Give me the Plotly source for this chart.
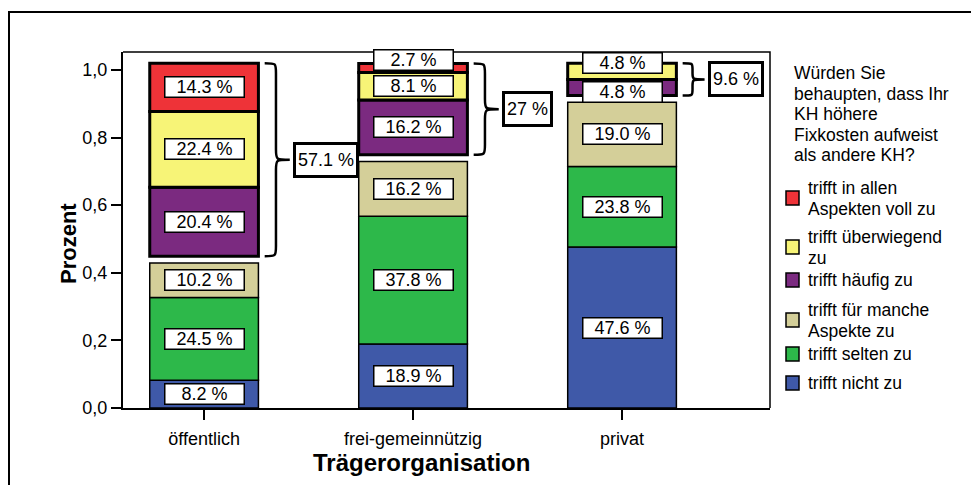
import plotly.graph_objects as go

# --- données (pourcentages par type de Träger) ---
categories = ["öffentlich", "frei-gemeinnützig", "privat"]

nicht = [8.2, 18.9, 47.6]
selten = [24.5, 37.8, 23.8]
manche = [10.2, 16.2, 19.0]
haeufig = [20.4, 16.2, 4.8]
ueberwiegend = [22.4, 8.1, 4.8]
voll = [14.3, 2.7, 0.0]

names = [
    "trifft nicht zu", "trifft selten zu", "trifft für manche<br>Aspekte zu",
    "trifft häufig zu", "trifft überwiegend<br>zu", "trifft in allen<br>Aspekten voll zu",
]
legend_title = ["Würden Sie", "behaupten, dass Ihr", "KH höhere", "Fixkosten aufweist", "als andere KH?"]
series = [nicht, selten, manche, haeufig, ueberwiegend, voll]
colors = ["#3F59A8", "#2DB84A", "#D4CF99", "#7B2A80", "#F7F477", "#EE3338"]

FONT = "Liberation Sans, Arial, sans-serif"
W, H = 979, 485
OFF = 8              # marge du <body> de la page
X0, X1, Y0, Y1 = 123, 770, 52, 408   # zone de tracé (pixels de la page)
GAP = 0.02          # écart entre groupe bas et groupe haut (accolade)
BAR_W = 0.52
YMAX = 1.053


def px(x):
    return (x - X0) / (X1 - X0)


def py(y):
    return (Y1 - y) / (Y1 - Y0)


def text_line(txt, x, y, size, anchor="left"):
    return dict(x=px(x), y=py(y), xref="paper", yref="paper", xanchor=anchor,
                yanchor="middle", showarrow=False, text=txt,
                font=dict(size=size, color="black", family=FONT))


fig = go.Figure()
annotations = []
shapes = []

# petits segments : décalage vertical des étiquettes (px)
label_shift = {(1, 5): 8, (2, 4): 8, (2, 3): -4}

bases = [0.0, 0.0, 0.0]
group_bounds = {}
for k, (vals, col) in enumerate(zip(series, colors)):
    if k == 3:
        bases = [b + GAP for b in bases]
    upper = k >= 3
    xs, ys, bs = [], [], []
    for i, v in enumerate(vals):
        if v <= 0:
            continue
        xs.append(i)
        ys.append(v / 100)
        bs.append(bases[i])
        if upper:
            lo, hi = group_bounds.get(i, (bases[i], bases[i]))
            group_bounds[i] = (lo, bases[i] + v / 100)
        annotations.append(dict(
            x=i, y=bases[i] + v / 200, xref="x", yref="y", showarrow=False,
            xanchor="center", yanchor="middle",
            text=f"{v:.1f} %", font=dict(size=18, color="black", family=FONT),
            bgcolor="white", bordercolor="black", borderwidth=1.5, borderpad=1,
            width=76, height=17, yshift=label_shift.get((i, k), 0),
        ))
    fig.add_trace(go.Bar(
        x=xs, y=ys, base=bs, width=BAR_W, showlegend=False,
        marker=dict(color=col, line=dict(color="black", width=3 if upper else 1.5)),
    ))
    for i, v in enumerate(vals):
        bases[i] += v / 100

# accolades + totaux du groupe haut
for i, (yb, yt) in group_bounds.items():
    total = round(haeufig[i] + ueberwiegend[i] + voll[i], 1)
    x0 = i + BAR_W / 2 + 0.03
    w = 0.12 if yt - yb > 0.15 else 0.105
    xm, xt = x0 + w * 0.45, x0 + w
    ym = (yb + yt) / 2
    r = min(0.03, (yt - yb) / 5.5)
    path = (f"M {x0},{yt} C {xm},{yt} {xm},{yt} {xm},{yt - r} L {xm},{ym + r} "
            f"C {xm},{ym} {xm},{ym} {xt},{ym} C {xm},{ym} {xm},{ym} {xm},{ym - r} "
            f"L {xm},{yb + r} C {xm},{yb} {xm},{yb} {x0},{yb}")
    shapes.append(dict(type="path", path=path, xref="x", yref="y",
                       line=dict(color="black", width=2.5)))
    annotations.append(dict(
        x=xt + 0.015, y=ym, xref="x", yref="y", xanchor="left", yanchor="middle",
        showarrow=False,
        text=f"{total:g} %", font=dict(size=18, color="black", family=FONT),
        bgcolor="white", bordercolor="black", borderwidth=3, borderpad=2, height=26,
    ))

# cadre du graphique (haut / droite) et cadre extérieur
shapes.append(dict(type="path", path="M 0,1 L 1,1 L 1,0", xref="paper", yref="paper",
                   line=dict(color="black", width=1.5)))
shapes.append(dict(type="path", xref="paper", yref="paper",
                   path=f"M {px(9)},{py(495)} L {px(9)},{py(12)} L {px(990)},{py(12)}",
                   line=dict(color="black", width=2)))

# légende manuelle (une annotation par ligne pour un interligne serré)
for j, line in enumerate(legend_title):
    annotations.append(text_line(line, 792, 73 + 20.5 * j, 17.5))
leg_y = [383, 354, 320, 280, 247, 198]
for name, col, yy in zip(names, colors, leg_y):
    shapes.append(dict(type="rect", xref="paper", yref="paper",
                       x0=px(786), x1=px(799), y0=py(yy + 7), y1=py(yy - 7),
                       fillcolor=col, line=dict(color="black", width=1.5)))
    lines = name.split("<br>")
    top = yy - 10.5 * (len(lines) - 1)
    for j, line in enumerate(lines):
        annotations.append(text_line(line, 806, top + 21 * j, 17.5))

# titres des axes
annotations.append(dict(
    x=px(68), y=py(244), xref="paper", yref="paper", showarrow=False, textangle=-90,
    xanchor="center", yanchor="middle",
    text="<b>Prozent</b>", font=dict(size=22, color="black", family=FONT),
))
annotations.append(text_line("<b>Trägerorganisation</b>", 421, 462, 24, anchor="center"))

fig.update_layout(
    width=W - OFF, height=H - OFF,
    margin=dict(l=X0 - OFF, r=W - X1, t=Y0 - OFF, b=H - Y1),
    paper_bgcolor="white", plot_bgcolor="white", barmode="overlay",
    separators=",.", font=dict(family=FONT, color="black", size=18),
    annotations=annotations, shapes=shapes, showlegend=False,
)
fig.update_xaxes(
    range=[-0.388, 2.708], tickvals=[0, 1, 2], ticktext=categories,
    ticks="outside", ticklen=10, tickwidth=1.5, tickcolor="black",
    showline=True, linewidth=2, linecolor="black", showgrid=False, zeroline=False,
    tickfont=dict(size=18), ticklabelstandoff=3,
)
fig.update_yaxes(
    range=[0, YMAX], tickvals=[0, 0.2, 0.4, 0.6, 0.8, 1.0], tickformat=".1f",
    ticks="outside", ticklen=10, tickwidth=1.5, tickcolor="black",
    showline=True, linewidth=2, linecolor="black", showgrid=False, zeroline=False,
    tickfont=dict(size=18), ticklabelstandoff=0,
)

fig.write_html("out.html")
